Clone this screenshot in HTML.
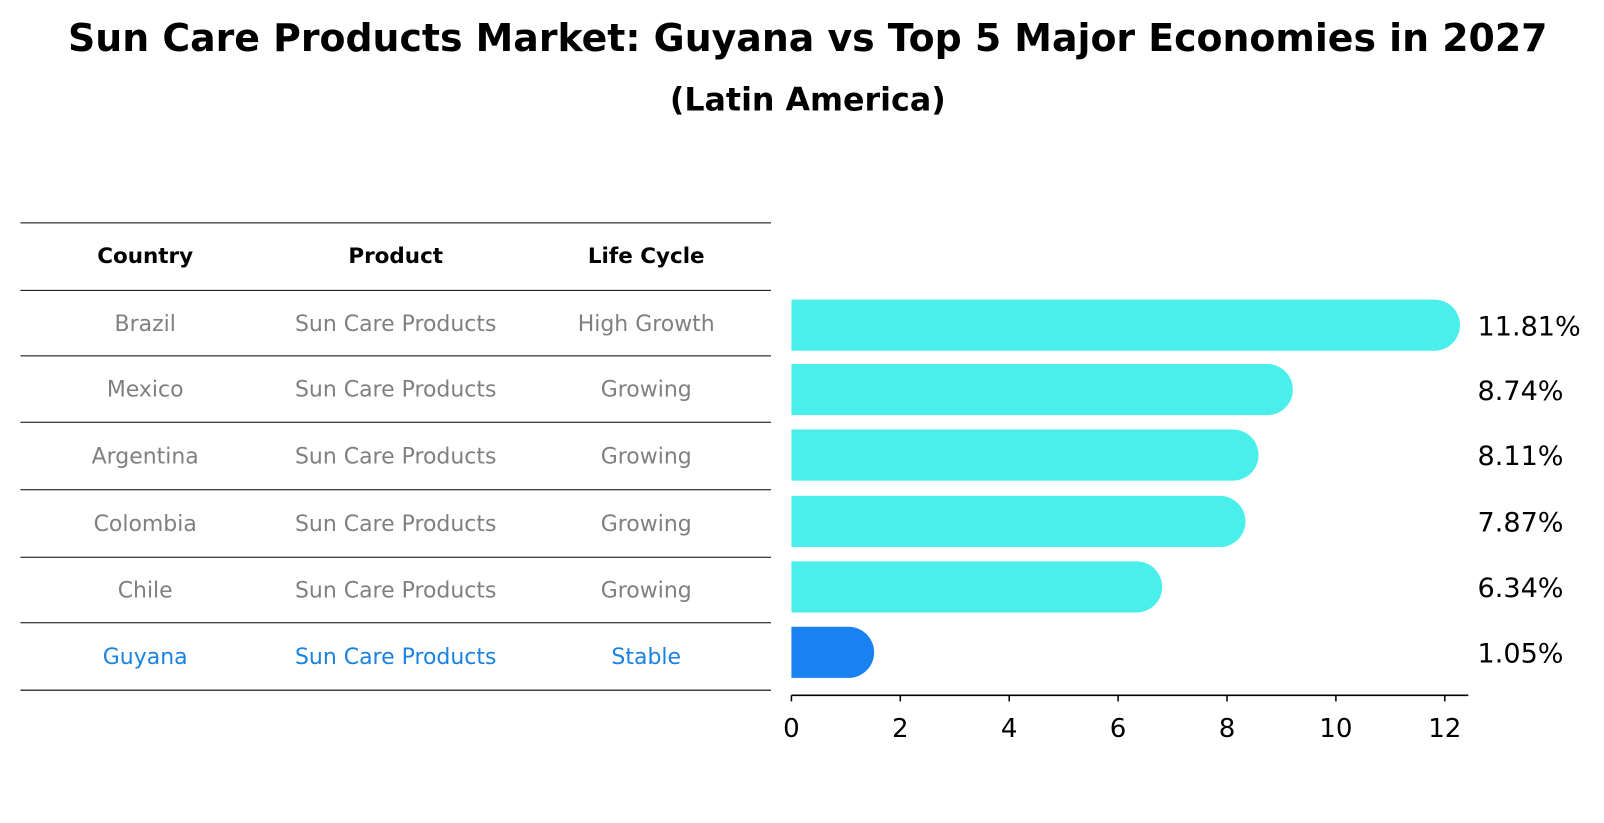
<!DOCTYPE html>
<html><head><meta charset="utf-8"><style>body{margin:0;background:#fff}svg{display:block}</style></head>
<body>
<svg id="c" width="1604" height="823" xmlns="http://www.w3.org/2000/svg" font-family="'DejaVu Sans','Liberation Sans',sans-serif">
<g transform="scale(1.0225)">
<text x="790" y="50" text-anchor="middle" font-size="37" font-weight="bold">Sun Care Products Market: Guyana vs Top 5 Major Economies in 2027</text>
<text x="790" y="108" text-anchor="middle" font-size="31" font-weight="bold">(Latin America)</text>
<g id="table"></g>
<g id="bars"></g>
</g>
</svg>
<script>
const countries=["Brazil","Mexico","Argentina","Colombia","Chile","Guyana"];
const products=["Sun Care Products","Sun Care Products","Sun Care Products","Sun Care Products","Sun Care Products","Sun Care Products"];
const stages=["High Growth","Growing","Growing","Growing","Growing","Stable"];
const values=[11.81,8.74,8.11,7.87,6.34,1.05];
const ticks=[0,2,4,6,8,10,12];
const NS="http://www.w3.org/2000/svg";
function mk(t,a,p,txt){const e=document.createElementNS(NS,t);for(const k in a)e.setAttribute(k,a[k]);if(txt!=null)e.textContent=txt;p.appendChild(e);return e;}
const tb=document.getElementById('table'),bg=document.getElementById('bars');
const lines=[218,284,348,413,479,545,609,675];
lines.forEach((y,i)=>{const l=mk('line',{x1:20,x2:754,y1:y,y2:y,stroke:'#000','stroke-width':1},tb);

});
const cx=[142,387,632];
["Country","Product","Life Cycle"].forEach((h,i)=>{const t=mk('text',{x:cx[i],y:257,'text-anchor':'middle','font-size':21,'font-weight':'bold'},tb,h);

});
const rowY=i=>(lines[i+1]+lines[i+2])/2+7.5;
countries.forEach((c,i)=>{const col=c==="Guyana"?'#1a82e0':'#808080';
[c,products[i],stages[i]].forEach((v,j)=>{const t=mk('text',{x:cx[j],y:rowY(i),'text-anchor':'middle','font-size':21.5,fill:col},tb,v);

});});
const x0=774,sc=(1413-774)/12,xs=v=>x0+v*sc;
const barC=[318,381,445,510,574,638],h=50;
values.forEach((v,i)=>{const y=barC[i];const g=c=>countries[i]==="Guyana"?'#1a82f0':'#4aefec';
const p=mk('path',{d:`M${x0},${y-h/2}H${xs(v)}A${h/2},${h/2} 0 0 1 ${xs(v)},${y+h/2}H${x0}Z`,fill:g()},bg);


const t=mk('text',{x:1445,y:y+10,'font-size':26.5},bg,v.toFixed(2)+'%');

});
const ax=mk('line',{x1:774,x2:1436,y1:680,y2:680,stroke:'#000','stroke-width':1.5},bg);


ticks.forEach(t=>{const l=mk('line',{x1:xs(t),x2:xs(t),y1:680,y2:686,stroke:'#000','stroke-width':1.5},bg);


const tx=mk('text',{x:xs(t),y:721,'text-anchor':'middle','font-size':25.5},bg,t);

});
</script>
</body></html>
